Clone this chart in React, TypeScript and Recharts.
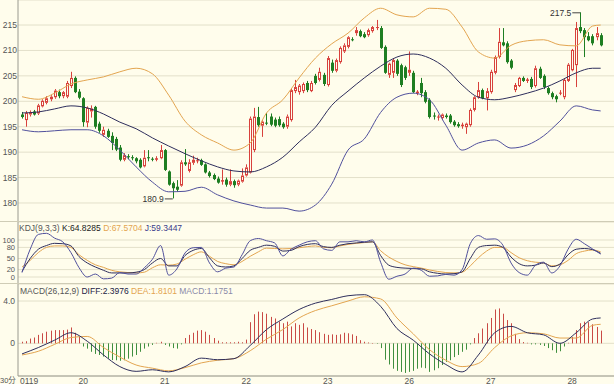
import { ComposedChart, Bar, Line, XAxis, YAxis, CartesianGrid, ReferenceDot } from "recharts";

const FONT = "'Liberation Sans', Arial, 'Noto Sans CJK SC', sans-serif";
const BG = "#FFFDEC";
const GRID = "#E3E0CA";
const AXIS = "#9A9A90";
const RED = "#D8413C";
const GREEN = "#1E7E22";
const HRED = "#C94A45";
const HGREEN = "#3F8F3F";
const ORANGE = "#E3A550";
const NAVY = "#2E2E5C";
const PURPLE = "#50509C";

// x axis: one row per bar, day labels on the first bar of each day
const dayLabels = ["0119", "20", "21", "22", "23", "26", "27", "28"];
const dayStarts = [0, 15, 35, 55, 75, 95, 115, 135];

// candles
const open = [
  197.4, 196.3, 197.4, 198.0, 197.6, 199.0, 199.7, 200.4, 200.8, 201.8,
  201.0, 200.9, 203.0, 204.6, 201.9, 200.6, 195.8, 198.0, 198.9, 195.6,
  193.4, 194.2, 193.2, 192.6, 190.9, 188.5, 189.2, 189.0, 188.8, 188.5,
  187.2, 189.0, 188.7, 188.5, 188.8, 190.4, 186.2, 183.9, 183.2, 183.4,
  188.0, 186.3, 187.9, 188.3, 188.4, 187.6, 186.0, 185.5, 184.8, 184.2,
  184.6, 183.6, 184.3, 183.6, 184.2, 185.4, 186.0, 190.4, 196.9, 195.2,
  195.8, 197.0, 196.4, 196.5, 195.6, 195.0, 196.3, 202.0, 201.8, 202.0,
  203.6, 202.0, 205.0, 204.2, 205.2, 203.2, 207.6, 206.0, 207.7, 209.8,
  210.7, 212.2, 213.4, 213.8, 213.2, 213.0, 213.8, 214.5, 214.4, 210.7,
  205.2, 205.6, 208.0, 207.1, 206.7, 205.6, 205.6, 201.6, 203.6, 201.8,
  200.3, 197.2, 196.8, 196.7, 197.2, 197.2, 196.0, 195.5, 195.1, 194.9,
  195.3, 198.3, 200.8, 202.2, 200.6, 201.8, 205.6, 208.7, 211.6, 211.4,
  208.0, 202.2, 203.0, 204.6, 204.0, 204.4, 203.0, 206.4, 205.0, 202.6,
  201.6, 201.0, 201.5, 200.8, 204.0, 206.1, 207.1, 214.6, 214.0, 212.8,
  212.8, 212.6, 213.0,
];
const high = [
  197.9, 198.1, 198.2, 198.3, 199.5, 200.4, 201.0, 201.2, 202.4, 202.3,
  202.0, 204.0, 205.8, 204.9, 202.4, 200.8, 199.0, 199.2, 199.1, 196.0,
  195.0, 194.6, 193.9, 193.0, 191.4, 189.8, 189.6, 189.4, 189.0, 188.8,
  190.4, 190.4, 189.0, 189.2, 191.4, 190.6, 186.4, 184.2, 184.5, 188.4,
  190.6, 188.6, 189.3, 188.9, 188.7, 187.8, 186.3, 185.8, 185.2, 186.6,
  185.0, 186.6, 184.6, 184.6, 186.8, 187.6, 197.0, 198.7, 198.9, 196.3,
  197.7, 197.6, 196.8, 197.0, 195.9, 197.4, 202.6, 204.2, 203.4, 203.7,
  204.0, 204.0, 205.4, 206.6, 205.6, 208.9, 208.2, 208.4, 210.8, 211.4,
  212.8, 212.6, 214.6, 214.1, 213.6, 214.3, 214.8, 216.0, 214.8, 211.0,
  207.6, 208.4, 208.3, 207.4, 207.0, 209.8, 206.0, 202.2, 204.6, 202.2,
  200.6, 197.8, 197.4, 197.6, 197.6, 197.5, 196.3, 195.9, 195.8, 195.8,
  198.6, 201.0, 203.8, 202.5, 202.6, 206.2, 209.0, 214.4, 214.4, 211.8,
  208.3, 203.6, 204.8, 204.9, 204.6, 204.8, 207.0, 206.8, 205.3, 202.9,
  201.9, 201.3, 202.2, 204.5, 207.5, 210.3, 215.6, 217.5, 214.4, 213.6,
  213.2, 214.6, 213.4,
];
const low = [
  196.6, 195.0, 197.0, 197.2, 197.3, 198.8, 199.4, 200.0, 200.5, 200.6,
  200.6, 200.6, 202.6, 201.6, 200.4, 195.0, 194.9, 196.8, 194.6, 193.8,
  193.0, 192.8, 190.4, 190.2, 188.2, 188.2, 188.6, 188.4, 187.8, 186.8,
  187.0, 188.2, 188.2, 188.2, 188.6, 186.3, 183.4, 180.9, 182.2, 183.2,
  187.3, 186.0, 187.5, 187.8, 187.3, 185.8, 185.0, 184.5, 183.8, 183.6,
  183.2, 183.3, 183.0, 183.3, 184.0, 185.2, 185.8, 190.0, 195.0, 193.0,
  195.3, 195.1, 194.9, 195.0, 194.6, 194.6, 196.0, 201.6, 201.3, 201.6,
  201.8, 201.8, 203.3, 203.9, 203.0, 202.9, 205.6, 205.7, 207.4, 209.5,
  210.4, 211.8, 212.9, 212.6, 212.4, 212.7, 213.5, 214.0, 210.3, 205.4,
  204.6, 204.6, 205.0, 202.8, 204.2, 205.0, 201.6, 201.2, 200.8, 199.6,
  196.6, 196.4, 196.2, 196.3, 196.6, 195.6, 195.0, 194.8, 194.6, 193.6,
  195.0, 198.0, 200.5, 200.4, 198.2, 201.5, 205.3, 208.4, 210.8, 207.4,
  206.3, 201.8, 202.8, 203.8, 203.6, 202.4, 202.7, 204.4, 202.4, 201.3,
  200.4, 199.8, 201.2, 200.4, 203.8, 205.9, 202.8, 213.4, 208.7, 211.8,
  211.0, 212.0, 210.8,
];
const close = [
  196.9, 197.7, 197.9, 197.4, 199.2, 200.1, 200.6, 200.9, 202.1, 201.0,
  201.8, 203.6, 204.6, 201.8, 200.7, 195.9, 198.7, 198.6, 195.0, 194.2,
  194.4, 193.0, 191.8, 190.5, 188.5, 189.4, 189.0, 188.8, 188.2, 187.0,
  188.9, 188.8, 188.5, 188.8, 190.4, 186.5, 183.6, 182.9, 182.6, 188.0,
  187.6, 188.0, 188.5, 188.4, 187.5, 186.0, 185.3, 184.7, 184.0, 184.5,
  183.6, 184.3, 183.5, 184.4, 185.4, 187.0, 196.6, 197.0, 195.3, 196.0,
  195.7, 195.4, 195.2, 195.3, 194.9, 197.0, 202.2, 202.8, 203.1, 203.4,
  202.2, 203.6, 203.6, 205.8, 203.4, 208.5, 206.0, 208.1, 210.5, 211.0,
  212.6, 212.0, 214.0, 212.8, 212.6, 214.0, 214.6, 214.6, 210.5, 205.6,
  207.4, 208.1, 205.4, 203.2, 204.6, 206.2, 201.8, 201.9, 201.6, 199.9,
  196.9, 197.0, 197.0, 197.4, 196.9, 195.9, 195.3, 195.1, 195.4, 195.6,
  198.3, 200.8, 202.2, 200.6, 202.0, 205.8, 208.7, 211.7, 211.0, 207.7,
  206.6, 203.2, 204.6, 204.0, 204.3, 202.8, 206.5, 204.6, 202.8, 201.6,
  200.8, 200.4, 201.7, 204.2, 207.2, 210.1, 214.4, 213.8, 212.6, 212.0,
  211.4, 213.4, 211.0,
];

// Bollinger bands, read every 4th bar (last value = last bar)
const bollUpper = [
  200.9, 200.4, 201.6, 203.4, 204.2, 204.8, 205.8, 206.5, 205.4, 201.2,
  196.1, 193.4, 191.8, 190.4, 191.8, 197.7, 200.3, 204.6, 208.5, 211.3,
  213.4, 216.4, 218.3, 217.0, 216.6, 218.3, 218.1, 214.6, 209.7, 208.5,
  211.0, 211.9, 212.1, 211.1, 210.9, 214.8, 215.0,
];
const bollMid = [
  197.7, 197.9, 198.5, 199.1, 198.7, 197.5, 195.9, 194.6, 192.8, 191.2,
  189.7, 188.3, 187.1, 186.3, 186.1, 187.1, 189.0, 192.0, 194.9, 199.2,
  202.0, 204.6, 206.9, 208.7, 209.3, 208.5, 206.5, 203.2, 200.8, 200.3,
  200.8, 201.6, 202.6, 204.0, 205.6, 206.5, 206.5,
];
const bollLower = [
  194.4, 194.0, 194.2, 194.4, 194.4, 193.2, 190.4, 187.1, 184.1, 182.2,
  182.3, 183.1, 181.6, 180.4, 179.6, 179.0, 179.0, 178.4, 179.6, 183.7,
  190.4, 192.6, 197.8, 200.8, 201.6, 200.3, 195.3, 190.4, 191.8, 192.4,
  190.8, 191.4, 193.2, 196.1, 199.1, 198.3, 198.1,
];

// KDJ, read every 2nd bar
const kLine = [
  15, 50, 75, 85, 91, 90, 84, 55, 38, 27, 18, 11, 11, 11, 13, 20, 38, 50, 30, 30,
  58, 72, 77, 52, 30, 27, 30, 50, 72, 80, 86, 83, 70, 72, 82, 88, 90, 82, 80, 86,
  90, 92, 94, 95, 58, 32, 26, 24, 23, 22, 14, 10, 8, 9, 14, 50, 80, 85, 86, 80,
  54, 36, 30, 32, 38, 28, 35, 60, 75, 77, 74, 64,
];
const dLine = [
  27, 45, 66, 80, 84, 84, 80, 60, 45, 33, 26, 18, 14, 12, 11, 13, 25, 33, 32, 35,
  48, 60, 68, 56, 42, 36, 33, 42, 56, 68, 78, 77, 76, 77, 79, 82, 84, 80, 79, 84,
  88, 91, 93, 95, 71, 54, 42, 33, 28, 24, 19, 15, 12, 11, 13, 30, 52, 70, 80, 80,
  66, 52, 44, 40, 38, 30, 33, 45, 63, 70, 73, 68,
];
const jLine = [
  12, 75, 115, 118, 105, 95, 66, 25, 0, 8, -5, -3, 12, 8, 8, 25, 48, 85, 5, 22,
  65, 79, 80, 38, 14, 24, 27, 60, 98, 104, 98, 92, 57, 75, 86, 95, 98, 76, 72, 95,
  95, 98, 95, 100, 40, -6, 2, 8, 24, 18, 2, 3, 7, 5, 20, 90, 112, 102, 103, 86,
  38, 12, 5, 32, 40, 11, 30, 75, 102, 90, 76, 62,
];

// MACD lines, read every 4th bar; histogram every bar
const diffLine = [
  -1.0, -0.4, 0.3, 1.0, 0.2, -1.1, -2.2, -2.65, -2.5, -2.7, -2.2, -1.4, -1.55, -1.45,
  -0.2, 1.3, 2.3, 3.2, 3.8, 4.15, 4.5, 4.6, 3.5, 1.4, 0.3, -1.0, -2.0, -2.7, -1.1,
  1.0, 1.6, 1.0, 0.8, 0.0, 1.0, 2.3, 2.4,
];
const deaLine = [
  -1.1, -0.75, -0.1, 0.55, 0.65, -0.4, -1.3, -2.05, -2.35, -2.6, -2.3, -1.85, -1.6,
  -1.45, -0.7, 0.4, 1.3, 2.4, 3.1, 3.55, 4.0, 4.4, 4.2, 2.4, 0.9, -0.6, -1.6, -2.2,
  -1.9, -0.4, 0.7, 1.0, 0.9, 0.5, 0.5, 1.7, 1.8,
];
const macdHist = [
  0.15, 0.2, 0.45, 0.55, 0.8, 0.95, 1.1, 1.2, 1.25, 1.25, 1.25, 1.3, 1.5, 1.0, 0.6,
  -0.3, -0.5, -0.8, -1.0, -1.1, -1.25, -1.45, -1.58, -1.6, -1.65, -1.6, -1.45, -1.25, -1.1, -0.8,
  -0.5, -0.3, -0.15, 0.05, 0.15,
  -0.15, -0.3, -0.45, -0.5, -0.1, 0.5, 0.8, 1.0, 1.2, 1.25, 1.1, 0.8, 0.5, 0.25, 0.1,
  0.1, 0.1, 0.1, 0.15, 0.1,
  0.35, 2.0, 2.75, 3.0, 2.95, 2.8, 2.5, 2.35, 2.05, 1.9, 2.05, 1.6, 1.9, 1.75, 1.9,
  1.5, 1.35, 1.25, 1.05, 0.9,
  0.8, 0.85, 0.8, 0.85, 1.0, 0.95, 0.85, 0.7, 0.3, 0.15, 0.08, 0.03, -0.05, -0.45, -1.55,
  -2.0, -2.4, -2.6, -2.7, -2.8,
  -2.7, -2.6, -2.4, -2.3, -2.35, -2.7, -2.55, -2.35, -2.05, -1.75, -1.6, -1.3, -1.1, -0.8, -0.6,
  -0.1, 0.5, 0.95, 1.4, 1.9,
  2.4, 3.2, 3.3, 2.8, 2.2, 1.9, 0.9, 0.4, 0.12, 0.05, -0.1, -0.1, -0.15, -0.25, -0.45,
  -0.65, -0.9, -0.75, -0.3, 0.05,
  0.6, 1.25, 1.9, 2.05, 2.0, 1.8, 1.55, 1.2,
];

const kdjTitle = { name: "KDJ(9,3,3)", k: "K:64.8285", d: "D:67.5704", j: "J:59.3447" };
const macdTitle = { name: "MACD(26,12,9)", diff: "DIFF:2.3976", dea: "DEA:1.8101", macd: "MACD:1.1751" };
const periodLabel = "30分";

const LAST = open.length - 1;
function spread(vals: number[], step: number, i: number) {
  if (i % step === 0) return vals[i / step];
  if (i === LAST) return vals[vals.length - 1];
  return null;
}

const rows = open.map((o, i) => ({
  i,
  o,
  h: high[i],
  l: low[i],
  c: close[i],
  up: spread(bollUpper, 4, i),
  mid: spread(bollMid, 4, i),
  dn: spread(bollLower, 4, i),
  k: spread(kLine, 2, i),
  d: spread(dLine, 2, i),
  j: spread(jLine, 2, i),
  diff: spread(diffLine, 4, i),
  dea: spread(deaLine, 4, i),
  hist: macdHist[i],
}));

const hiVal = Math.max(...high);
const loVal = Math.min(...low);
const hiIdx = high.indexOf(hiVal);
const loIdx = low.indexOf(loVal);

const xPad = { left: 2, right: 11.3 };
const tickStyle = { fontSize: 8.5, fill: "#555", fontFamily: FONT };
const smallTick = { fontSize: 7.5, fill: "#555", fontFamily: FONT };

function Candle(props: any) {
  const { x, y, width, height, payload } = props;
  if (!payload || y == null || height == null) return <g />;
  const { o, h, l, c } = payload;
  const top = Math.min(y, y + height);
  const span = Math.abs(height);
  const toY = (v: number) => (h === l ? top : top + ((h - v) / (h - l)) * span);
  const cx = Math.floor(x + width / 2) + 0.5;
  const yo = toY(o);
  const yc = toY(c);
  const bTop = Math.min(yo, yc);
  const hgt = Math.max(Math.abs(yo - yc), 1);
  const rising = c >= o;
  const color = rising ? RED : GREEN;
  if (rising && hgt > 2.5) {
    return (
      <g>
        <line x1={cx} x2={cx} y1={top} y2={bTop} stroke={color} />
        <line x1={cx} x2={cx} y1={bTop + hgt} y2={top + span} stroke={color} />
        <rect x={cx - 1} y={bTop + 0.5} width={2} height={hgt - 1} fill={BG} stroke={color} />
      </g>
    );
  }
  return (
    <g>
      <line x1={cx} x2={cx} y1={top} y2={top + span} stroke={color} />
      <rect x={cx - 1.5} y={bTop} width={3} height={hgt} fill={color} />
    </g>
  );
}

function HistBar(props: any) {
  const { x, y, width, height, payload } = props;
  if (!payload || y == null || height == null) return <g />;
  const top = Math.min(y, y + height);
  const px = Math.floor(x + width / 2);
  return (
    <rect x={px} y={top} width={1} height={Math.max(Math.abs(height), 0.5)}
      fill={payload.hist >= 0 ? HRED : HGREEN} />
  );
}

function DayTick(props: any) {
  const { x, y, payload } = props;
  const k = dayStarts.indexOf(payload.value);
  if (k < 0) return <g />;
  return (
    <text x={k === 0 ? x - 2 : x} y={y + 7.5} textAnchor={k === 0 ? "start" : "middle"}
      fontSize={8.5} fill="#555" fontFamily={FONT}>
      {dayLabels[k]}
    </text>
  );
}

function PriceMark(props: any) {
  const { cx, cy, text } = props;
  if (cx == null || cy == null) return <g />;
  return (
    <g>
      <line x1={cx - 8} x2={cx} y1={cy + 0.5} y2={cy + 0.5} stroke="#444" />
      <text x={cx - 9} y={cy + 3.5} textAnchor="end" fontSize={8.5} fill="#333" fontFamily={FONT}>
        {text}
      </text>
    </g>
  );
}

const lineProps = {
  dot: false,
  activeDot: false,
  connectNulls: true,
  isAnimationActive: false,
  type: "monotone" as const,
  strokeWidth: 1,
};

export default function App() {
  return (
    <div style={{ position: "absolute", left: 0, top: 0, width: 614, height: 384, background: BG, overflow: "hidden" }}>
      <div style={{ position: "absolute", left: 0, top: 0 }}>
        <ComposedChart width={614} height={222} data={rows} margin={{ top: 0, right: 0, bottom: 0, left: 0 }}>
          <CartesianGrid vertical={false} stroke={GRID} />
          <XAxis dataKey="i" hide scale="band" padding={xPad} />
          <YAxis type="number" domain={[176.26, 219.92]} allowDataOverflow ticks={[180, 185, 190, 195, 200, 205, 210, 215]}
            width={18} tickLine={false} tickSize={1} tickMargin={0} axisLine={{ stroke: AXIS }} tick={tickStyle} interval={0} />
          <Line dataKey="up" stroke={ORANGE} {...lineProps} />
          <Line dataKey="mid" stroke={NAVY} {...lineProps} />
          <Line dataKey="dn" stroke={PURPLE} {...lineProps} />
          <Bar dataKey={(r: any) => [r.l, r.h]} barSize={3} shape={Candle} isAnimationActive={false} />
          <ReferenceDot x={hiIdx} y={hiVal} r={0} shape={(p: any) => <PriceMark {...p} text={hiVal.toFixed(1)} />} />
          <ReferenceDot x={loIdx} y={loVal} r={0} shape={(p: any) => <PriceMark {...p} text={loVal.toFixed(1)} />} />
        </ComposedChart>
      </div>
      <div style={{ position: "absolute", left: 0, top: 221, width: 614, height: 1, background: "#CFCCB6" }} />

      <div style={{ position: "absolute", left: 0, top: 222 }}>
        <ComposedChart width={614} height={62} data={rows} margin={{ top: 0, right: 0, bottom: 0, left: 0 }}>
          <CartesianGrid vertical={false} stroke={GRID} />
          <XAxis dataKey="i" hide scale="band" padding={xPad} />
          <YAxis type="number" domain={[-18.9, 148.6]} allowDataOverflow ticks={[0, 20, 50, 80, 100]}
            width={18} tickLine={false} tickSize={3} tickMargin={0} axisLine={{ stroke: AXIS }} tick={smallTick} interval={0} />
          <Line dataKey="d" stroke={ORANGE} {...lineProps} />
          <Line dataKey="k" stroke={NAVY} {...lineProps} />
          <Line dataKey="j" stroke={PURPLE} {...lineProps} />
        </ComposedChart>
      </div>
      <div style={{ position: "absolute", left: 0, top: 283, width: 614, height: 1, background: "#CFCCB6" }} />
      <div style={{ position: "absolute", left: 19, top: 223, fontSize: 8.5, lineHeight: "10px", fontFamily: FONT, whiteSpace: "pre" }}>
        <span style={{ color: "#555" }}>{kdjTitle.name} </span>
        <span style={{ color: "#222" }}>{kdjTitle.k} </span>
        <span style={{ color: ORANGE }}>{kdjTitle.d} </span>
        <span style={{ color: "#3A3A8A" }}>{kdjTitle.j}</span>
      </div>

      <div style={{ position: "absolute", left: 0, top: 284 }}>
        <ComposedChart width={614} height={100} data={rows} margin={{ top: 0, right: 0, bottom: 0, left: 0 }}>
          <CartesianGrid vertical={false} stroke={GRID} />
          <XAxis dataKey="i" scale="band" padding={xPad} height={8} interval={0} tickLine={false}
            tickSize={0} tickMargin={0} axisLine={{ stroke: AXIS }} tick={DayTick} />
          <YAxis type="number" domain={[-3.09, 5.61]} allowDataOverflow ticks={[0, 4]}
            tickFormatter={(v: number) => (v === 0 ? "0" : v.toFixed(1))}
            width={18} tickLine={false} tickSize={3} tickMargin={0} axisLine={{ stroke: AXIS }} tick={tickStyle} interval={0} />
          <Bar dataKey="hist" barSize={1} shape={HistBar} isAnimationActive={false} />
          <Line dataKey="dea" stroke={ORANGE} {...lineProps} />
          <Line dataKey="diff" stroke={NAVY} {...lineProps} />
        </ComposedChart>
      </div>
      <div style={{ position: "absolute", left: 20, top: 286, fontSize: 8.5, lineHeight: "10px", fontFamily: FONT, whiteSpace: "pre" }}>
        <span style={{ color: "#555" }}>{macdTitle.name} </span>
        <span style={{ color: "#222244" }}>{macdTitle.diff} </span>
        <span style={{ color: ORANGE }}>{macdTitle.dea} </span>
        <span style={{ color: "#8A8AA8" }}>{macdTitle.macd}</span>
      </div>
      <div style={{ position: "absolute", left: 0, top: 376, fontSize: 7.5, lineHeight: "10px", fontFamily: FONT, color: "#555", whiteSpace: "pre" }}>
        {periodLabel}
      </div>
    </div>
  );
}
